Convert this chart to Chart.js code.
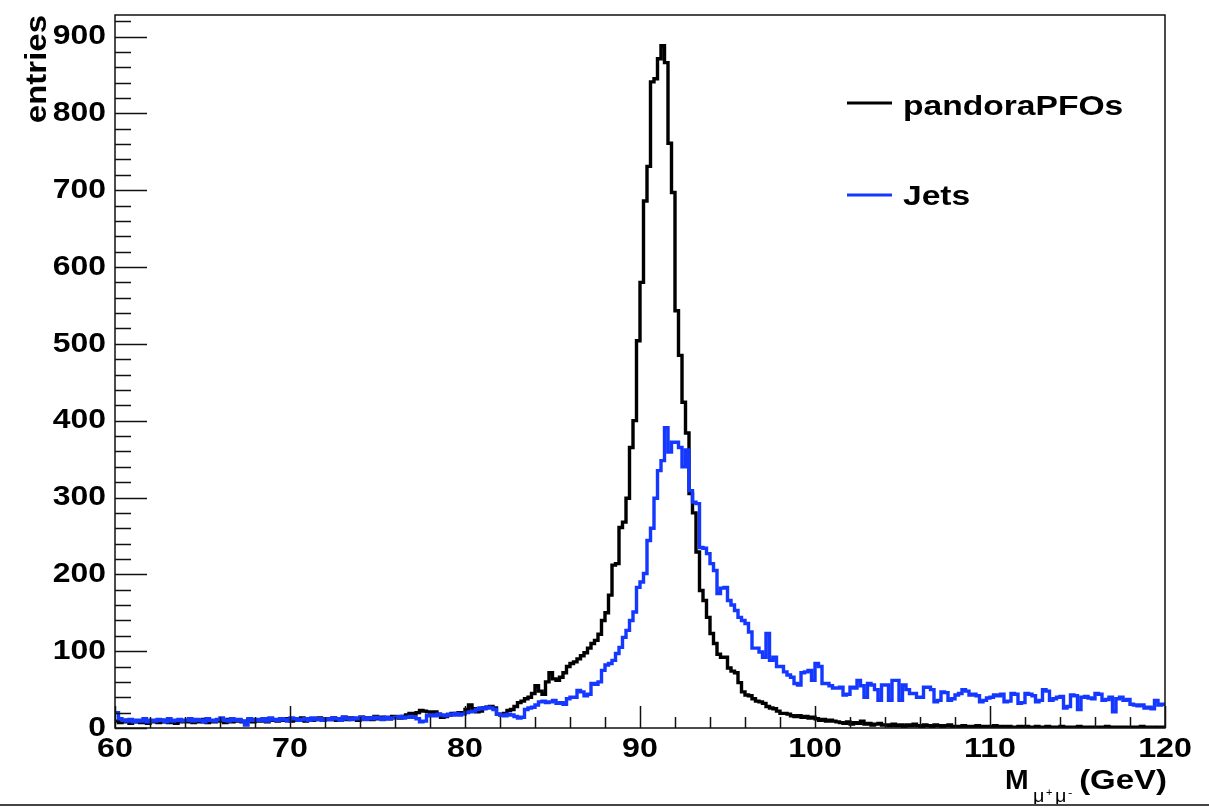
<!doctype html>
<html lang="en">
  <head>
    <meta charset="UTF-8" />
    <title>Dimuon mass</title>
    <script src="https://cdn.jsdelivr.net/npm/chart.js"></script>
    <style>
      body {
        margin: 0;
        padding: 0;
        background-color: #ffffff;
        overflow: hidden;
      }
      canvas {
        display: block;
      }
    </style>
  </head>
  <body>
    <canvas id="massChart" width="1209" height="808"></canvas>

    <script>
      // histogram range (GeV), 300 bins of 0.2 GeV
      const xMin = 60;
      const xMax = 120;
      const yMax = 928;

      const xTickLabels = [60, 70, 80, 90, 100, 110, 120];
      const yTickLabels = [0, 100, 200, 300, 400, 500, 600, 700, 800, 900];
      const seriesNames = ['pandoraPFOs', 'Jets'];

      const pandoraPFOs = [
        9, 7, 8, 10, 6, 8, 9, 7, 8, 6, 9, 8, 7, 10, 8, 7, 9, 6, 8, 9,
        8, 10, 7, 9, 8, 11, 7, 9, 8, 10, 9, 7, 11, 8, 9, 10, 8, 9, 11, 8,
        10, 9, 11, 8, 12, 10, 9, 11, 10, 12, 9, 11, 10, 13, 9, 12, 10, 11, 13, 10,
        12, 11, 13, 10, 12, 14, 11, 13, 12, 10, 14, 12, 13, 11, 15, 12, 14, 13, 12, 15,
        14, 13, 15, 17, 19, 18, 20, 23, 22, 21, 20, 21, 18, 14, 15, 17, 19, 18, 20, 19,
        24, 30, 25, 21, 22, 26, 27, 28, 26, 18, 17, 19, 23, 24, 28, 33, 35, 38, 40, 45,
        55, 48, 44, 60, 72, 64, 62, 66, 72, 80, 84, 86, 90, 94, 98, 104, 110, 114, 122, 140,
        150, 173, 212, 214, 261, 268, 299, 365, 400, 504, 580, 686, 731, 841, 845, 871, 888, 866, 761, 697,
        543, 485, 424, 384, 305, 280, 229, 179, 166, 144, 123, 110, 96, 92, 92, 78, 74, 72, 59, 47,
        43, 42, 38, 35, 34, 32, 28, 26, 25, 22, 19, 19, 18, 16, 15, 16, 14, 15, 13, 14,
        12, 10, 11, 9, 10, 9, 8, 7, 6, 8, 5, 7, 6, 9, 5, 6, 4, 5, 6, 4,
        4, 3, 5, 3, 4, 2, 4, 3, 5, 3, 2, 4, 3, 2, 4, 3, 2, 3, 4, 2,
        2, 1, 3, 2, 1, 2, 3, 1, 2, 2, 1, 3, 1, 2, 1, 2, 0, 1, 2, 1,
        2, 1, 1, 2, 0, 1, 2, 1, 1, 0, 2, 1, 1, 0, 1, 2, 1, 0, 1, 1,
        0, 1, 1, 2, 0, 1, 0, 1, 1, 0, 1, 0, 1, 2, 0, 1, 0, 1, 0, 1,
      ];

      const jets = [
        20, 12, 10, 9, 11, 8, 10, 9, 12, 8, 10, 9, 11, 10, 8, 12, 9, 10, 11, 9,
        10, 12, 9, 11, 10, 8, 12, 10, 9, 11, 13, 10, 9, 12, 10, 11, 9, 4, 12, 10,
        11, 10, 12, 9, 13, 11, 10, 12, 11, 9, 13, 12, 10, 11, 12, 10, 13, 11, 12, 10,
        12, 11, 13, 12, 10, 14, 12, 11, 13, 12, 14, 11, 13, 12, 14, 13, 11, 14, 12, 13,
        14, 15, 13, 14, 15, 14, 12, 8, 9, 16, 17, 16, 18, 17, 16, 18, 17, 19, 17, 18,
        20, 21, 22, 24, 26, 25, 27, 26, 24, 18, 17, 16, 18, 17, 15, 13, 14, 24, 26, 27,
        30, 34, 35, 33, 34, 36, 32, 33, 31, 38, 40, 40, 49, 47, 42, 44, 58, 57, 60, 75,
        82, 84, 88, 97, 105, 118, 127, 140, 151, 183, 190, 201, 244, 260, 299, 335, 348, 391, 359, 372,
        372, 365, 340, 362, 309, 294, 292, 235, 234, 227, 214, 205, 175, 182, 183, 166, 160, 153, 144, 140,
        136, 125, 104, 104, 99, 92, 123, 88, 92, 80, 80, 73, 69, 66, 58, 56, 72, 73, 75, 62,
        84, 80, 58, 58, 55, 52, 52, 53, 43, 44, 53, 52, 62, 55, 40, 58, 56, 50, 36, 56,
        56, 36, 62, 62, 36, 56, 50, 45, 45, 40, 40, 53, 53, 50, 34, 36, 47, 46, 36, 38,
        43, 45, 50, 48, 43, 44, 42, 34, 36, 39, 40, 43, 42, 44, 34, 35, 45, 44, 32, 33,
        45, 44, 42, 34, 36, 50, 48, 36, 38, 40, 41, 26, 28, 43, 42, 24, 40, 41, 39, 38,
        45, 44, 36, 37, 40, 21, 38, 40, 36, 37, 31, 30, 29, 30, 26, 27, 25, 36, 30, 31,
      ];

      const BLUE = '#1438ff';
      const LABEL_FONT = 'bold 28px "Liberation Sans", Arial, sans-serif';

      // bin left edges + closing point at the upper edge, drawn as steps
      function histPoints(values) {
        const w = (xMax - xMin) / values.length;
        const pts = values.map((v, i) => ({ x: xMin + i * w, y: v }));
        pts.push({ x: xMax, y: values[values.length - 1] });
        return pts;
      }

      function stretchText(ctx, text, x, y, sx, align) {
        ctx.save();
        ctx.translate(x, y);
        ctx.scale(sx, 1);
        ctx.textAlign = align;
        ctx.fillText(text, 0, 0);
        ctx.restore();
      }

      // ROOT-like frame: box, inward ticks, labels, titles, legend
      const rootFrame = {
        id: 'rootFrame',
        afterDatasetsDraw(chart) {
          const ctx = chart.ctx;
          const area = chart.chartArea;
          const xs = chart.scales.x;
          const ys = chart.scales.y;

          ctx.save();
          ctx.strokeStyle = '#111';
          ctx.lineWidth = 1.5;
          ctx.strokeRect(area.left, area.top, area.right - area.left, area.bottom - area.top);

          ctx.beginPath();
          for (let v = xMin; v <= xMax; v += 2) {
            const px = Math.round(xs.getPixelForValue(v)) + 0.5;
            const len = v % 10 === 0 ? 22 : 11;
            ctx.moveTo(px, area.bottom);
            ctx.lineTo(px, area.bottom - len);
          }
          for (let v = 0; v <= yMax; v += 20) {
            const py = Math.round(ys.getPixelForValue(v)) + 0.5;
            const len = v % 100 === 0 ? 32 : 16;
            ctx.moveTo(area.left, py);
            ctx.lineTo(area.left + len, py);
          }
          ctx.stroke();

          ctx.fillStyle = '#000';
          ctx.font = LABEL_FONT;
          ctx.textBaseline = 'alphabetic';
          xTickLabels.forEach((v) => {
            stretchText(ctx, String(v), xs.getPixelForValue(v), area.bottom + 29, 1.15, 'center');
          });
          ctx.textBaseline = 'middle';
          yTickLabels.forEach((v) => {
            stretchText(ctx, String(v), area.left - 9, ys.getPixelForValue(v), 1.14, 'right');
          });

          // y title
          ctx.save();
          ctx.translate(46, area.top);
          ctx.rotate(-Math.PI / 2);
          ctx.scale(1.1, 1);
          ctx.textAlign = 'right';
          ctx.textBaseline = 'alphabetic';
          ctx.font = 'bold 30px "Liberation Sans", Arial, sans-serif';
          ctx.fillText('entries', 0, 0);
          ctx.restore();

          // x title  M_{mu+ mu-}(GeV)
          ctx.textBaseline = 'alphabetic';
          ctx.font = 'bold 27px "Liberation Sans", Arial, sans-serif';
          stretchText(ctx, 'M', 1005, 789, 1.05, 'left');
          ctx.font = '18px "Liberation Sans", Arial, sans-serif';
          stretchText(ctx, 'μ', 1033, 802, 1.1, 'left');
          stretchText(ctx, 'μ', 1055, 802, 1.1, 'left');
          ctx.font = '11px "Liberation Sans", Arial, sans-serif';
          stretchText(ctx, '+', 1046, 796, 1, 'left');
          stretchText(ctx, '-', 1068, 796, 1.2, 'left');
          ctx.font = 'bold 27px "Liberation Sans", Arial, sans-serif';
          stretchText(ctx, '(GeV)', area.right + 2, 789, 1.22, 'right');

          // legend
          const legendRows = [
            { name: seriesNames[0], color: '#000', lineY: 103, textY: 115 },
            { name: seriesNames[1], color: BLUE, lineY: 195, textY: 205 },
          ];
          legendRows.forEach((row) => {
            ctx.strokeStyle = row.color;
            ctx.lineWidth = 3;
            ctx.beginPath();
            ctx.moveTo(847, row.lineY);
            ctx.lineTo(892, row.lineY);
            ctx.stroke();
            ctx.fillStyle = '#000';
            ctx.font = LABEL_FONT;
            stretchText(ctx, row.name, 903, row.textY, 1.2, 'left');
          });

          // canvas bottom edge
          ctx.fillStyle = '#444';
          ctx.fillRect(0, 804, chart.width, 2);
          ctx.restore();
        },
      };

      const ctx = document.getElementById('massChart').getContext('2d');

      const chart = new Chart(ctx, {
        type: 'line',
        data: {
          datasets: [
            {
              label: seriesNames[0],
              data: histPoints(pandoraPFOs),
              borderColor: '#000000',
              borderWidth: 3.4,
              stepped: true,
              pointRadius: 0,
              fill: false,
              order: 1,
            },
            {
              label: seriesNames[1],
              data: histPoints(jets),
              borderColor: BLUE,
              borderWidth: 3.4,
              stepped: true,
              pointRadius: 0,
              fill: false,
              order: 0,
            },
          ],
        },
        options: {
          responsive: false,
          animation: false,
          devicePixelRatio: 1,
          layout: {
            padding: { left: 115, top: 15, right: 44, bottom: 80 },
          },
          scales: {
            x: { type: 'linear', min: xMin, max: xMax, display: false },
            y: { type: 'linear', min: 0, max: yMax, display: false },
          },
          plugins: {
            legend: { display: false },
            tooltip: { enabled: false },
          },
        },
        plugins: [rootFrame],
      });
    </script>
  </body>
</html>
